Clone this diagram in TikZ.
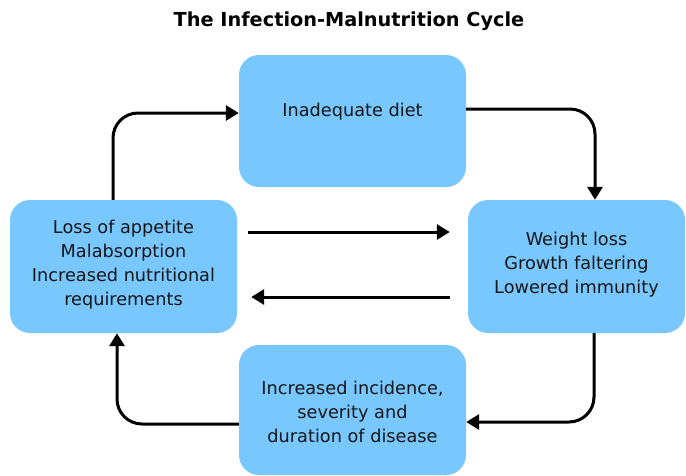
\documentclass[tikz,border=0pt]{standalone}
\usepackage{fontspec}
\setmainfont{DejaVu Sans}
\usetikzlibrary{arrows.meta}
\definecolor{boxblue}{RGB}{120,199,255}
\definecolor{txt}{RGB}{22,22,22}
\begin{document}
\begin{tikzpicture}[x=1pt,y=-1pt,
  box/.style={fill=boxblue, draw=none, rounded corners=20pt, inner sep=0pt},
  label/.style={text=txt, align=center, inner sep=0pt, font=\fontsize{17.7}{24}\selectfont},
  conn/.style={line width=3pt, -{Triangle[length=13pt, width=15pt]}, rounded corners=25pt}]
\useasboundingbox (0,0) rectangle (686,475);
\node[font=\bfseries\fontsize{19.3}{23}\selectfont, inner sep=0pt] (title) at (349,21) {The Infection-Malnutrition Cycle};
\node[box, minimum width=227pt, minimum height=132pt] (top) at (352.5,121) {};
\node[box, minimum width=227pt, minimum height=133pt] (left) at (123.5,266.5) {};
\node[box, minimum width=217pt, minimum height=133pt] (right) at (576.5,266.5) {};
\node[box, minimum width=227pt, minimum height=130pt] (bottom) at (352.5,410) {};
\node[label] (toptext) at (352.5,112) {Inadequate diet};
\node[label] (lefttext) at (123.5,264.5) {Loss of appetite\\Malabsorption\\Increased nutritional\\requirements};
\node[label] (righttext) at (576.5,265) {Weight loss\\Growth faltering\\Lowered immunity};
\node[label] (bottomtext) at (352.5,412) {Increased incidence,\\severity and\\duration of disease};
\draw[conn] ([xshift=-10.5pt]left.north) |- ([yshift=8pt]top.west);
\draw[conn] ([yshift=12pt]top.east) -| ([xshift=18.5pt]right.north);
\draw[conn] ([xshift=17.5pt]right.south) |- ([yshift=-12pt]bottom.east);
\draw[conn] ([yshift=-14pt]bottom.west) -| ([xshift=-6.5pt]left.south);
\draw[conn] ([xshift=11pt,yshift=34.5pt]left.east) -- ([xshift=-18pt,yshift=34.5pt]right.west);
\draw[conn] ([xshift=-18pt,yshift=-30.5pt]right.west) -- ([xshift=14pt,yshift=-30.5pt]left.east);
\end{tikzpicture}
\end{document}
